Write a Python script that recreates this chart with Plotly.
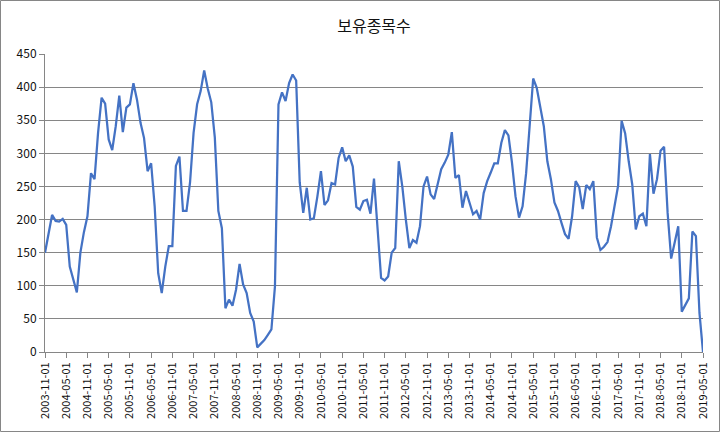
import plotly.graph_objects as go
import pandas as pd

months = pd.date_range("2003-11-01", "2019-05-01", freq="MS").strftime("%Y-%m-%d").tolist()

values = [
    150, 178, 207, 198, 197, 201, 192, 129, 109, 90,
    150, 181, 205, 270, 261, 331, 384, 375, 321, 305,
    341, 387, 332, 369, 374, 406, 381, 346, 323, 273,
    285, 220, 119, 89, 129, 160, 160, 281, 295, 213,
    213, 256, 331, 374, 394, 425, 398, 377, 324, 213,
    187, 66, 79, 70, 94, 133, 102, 89, 59, 46,
    7, 13, 18, 26, 34, 99, 374, 392, 379, 406,
    419, 410, 256, 210, 248, 200, 202, 235, 273, 222,
    229, 255, 253, 293, 309, 288, 297, 280, 219, 215,
    228, 230, 209, 262, 187, 112, 108, 114, 150, 157,
    288, 250, 200, 157, 169, 165, 190, 250, 265, 238,
    231, 253, 276, 286, 298, 332, 263, 267, 218, 243,
    225, 208, 213, 200, 240, 258, 271, 285, 285, 316,
    335, 327, 286, 235, 203, 220, 270, 347, 413, 399,
    372, 341, 288, 261, 226, 213, 195, 178, 171, 205,
    258, 249, 216, 252, 246, 258, 173, 154, 159, 166,
    190, 220, 251, 349, 330, 288, 253, 185, 205, 209,
    190, 299, 239, 261, 304, 310, 210, 141, 165, 190,
    61, 70, 81, 182, 175, 59, 0,
]

tick_labels = months[::6]

title_text = "보유종목수"

fig = go.Figure()
fig.add_trace(go.Scatter(
    x=months, y=values, mode="lines",
    line=dict(color="#4472C4", width=2.25),
    hoverinfo="x+y",
))

W, H = 720, 432
ml, mr, mt, mb = 45, 17, 54, 80
pw, ph = W - ml - mr, H - mt - mb

fig.update_layout(
    width=W, height=H,
    margin=dict(l=ml, r=mr, t=mt, b=mb),
    paper_bgcolor="white", plot_bgcolor="white",
    showlegend=False,
    font=dict(family="Noto Sans CJK KR, Malgun Gothic, sans-serif", size=12, color="#111"),
    title=dict(text=title_text, x=0.5, xref="paper", xanchor="center",
               y=1 - 26 / H, yanchor="middle",
               font=dict(size=16, color="#111", family="Noto Sans CJK KR")),
    xaxis=dict(
        type="category", automargin=False,
        range=[0, len(months) - 1],
        tickmode="array", tickvals=tick_labels, ticktext=tick_labels,
        tickangle=-90, ticks="outside", ticklen=5, tickcolor="#868686",
        showline=True, linecolor="#868686", linewidth=1,
        showgrid=False, zeroline=False,
        tickfont=dict(size=11, color="#111"),
    ),
    yaxis=dict(
        automargin=False,
        range=[0, 450], dtick=50, tick0=0,
        ticks="outside", ticklen=5, tickcolor="#868686",
        showline=True, linecolor="#868686", linewidth=1,
        showgrid=True, gridcolor="#868686", gridwidth=1,
        zeroline=False,
        tickfont=dict(size=12, color="#111"),
    ),
    shapes=[dict(
        type="rect", xref="paper", yref="paper",
        x0=(-ml + 0.5) / pw, x1=(pw + mr - 0.5) / pw,
        y0=(-mb + 0.5) / ph, y1=(ph + mt - 0.5) / ph,
        line=dict(color="#868686", width=1), fillcolor="rgba(0,0,0,0)",
        layer="below",
    )],
)

fig.write_html("out.html")
